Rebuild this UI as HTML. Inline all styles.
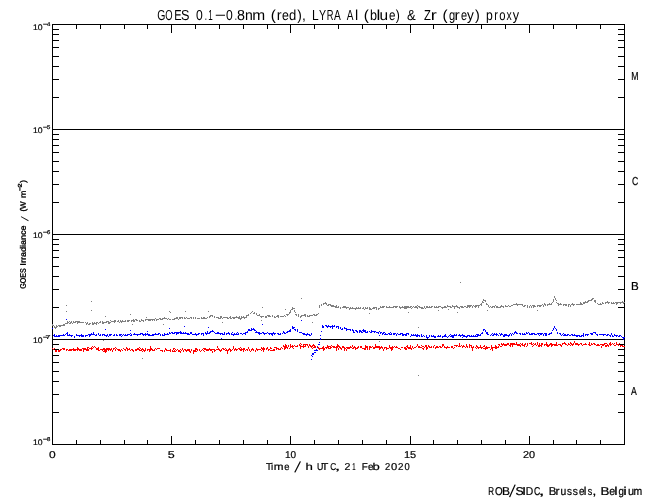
<!DOCTYPE html>
<html><head><meta charset="utf-8"><title>GOES 0.1-0.8nm, LYRA Al &amp; Zr proxy</title>
<style>
html,body{margin:0;padding:0;background:#fff;}
body{width:650px;height:500px;overflow:hidden;}
svg{display:block;}
text{font-family:"Liberation Sans", sans-serif;fill:#000;}
.s{stroke:#000;stroke-width:0.2px;}
.b{stroke:#000;stroke-width:0.4px;}
</style></head><body>
<svg width="650" height="500" viewBox="0 0 650 500">
<rect width="650" height="500" fill="#fff"/>
<g fill="#000" shape-rendering="crispEdges">
<path d="M52 24h573v1h-573zM52 444h573v1h-573zM52 24h1v421h-1zM624 24h1v421h-1zM53 129h571v1h-571zM53 234h571v1h-571zM53 339h571v1h-571zM53 412h6v1h-6zM618 412h6v1h-6zM53 394h6v1h-6zM618 394h6v1h-6zM53 381h6v1h-6zM618 381h6v1h-6zM53 371h6v1h-6zM618 371h6v1h-6zM53 362h6v1h-6zM618 362h6v1h-6zM53 355h6v1h-6zM618 355h6v1h-6zM53 349h6v1h-6zM618 349h6v1h-6zM53 344h6v1h-6zM618 344h6v1h-6zM53 307h6v1h-6zM618 307h6v1h-6zM53 289h6v1h-6zM618 289h6v1h-6zM53 276h6v1h-6zM618 276h6v1h-6zM53 266h6v1h-6zM618 266h6v1h-6zM53 257h6v1h-6zM618 257h6v1h-6zM53 250h6v1h-6zM618 250h6v1h-6zM53 244h6v1h-6zM618 244h6v1h-6zM53 239h6v1h-6zM618 239h6v1h-6zM53 202h6v1h-6zM618 202h6v1h-6zM53 184h6v1h-6zM618 184h6v1h-6zM53 171h6v1h-6zM618 171h6v1h-6zM53 161h6v1h-6zM618 161h6v1h-6zM53 152h6v1h-6zM618 152h6v1h-6zM53 145h6v1h-6zM618 145h6v1h-6zM53 139h6v1h-6zM618 139h6v1h-6zM53 134h6v1h-6zM618 134h6v1h-6zM53 97h6v1h-6zM618 97h6v1h-6zM53 79h6v1h-6zM618 79h6v1h-6zM53 66h6v1h-6zM618 66h6v1h-6zM53 56h6v1h-6zM618 56h6v1h-6zM53 47h6v1h-6zM618 47h6v1h-6zM53 40h6v1h-6zM618 40h6v1h-6zM53 34h6v1h-6zM618 34h6v1h-6zM53 29h6v1h-6zM618 29h6v1h-6zM76 440h1v4h-1zM76 25h1v4h-1zM100 440h1v4h-1zM100 25h1v4h-1zM124 440h1v4h-1zM124 25h1v4h-1zM147 440h1v4h-1zM147 25h1v4h-1zM171 436h1v8h-1zM171 25h1v8h-1zM195 440h1v4h-1zM195 25h1v4h-1zM219 440h1v4h-1zM219 25h1v4h-1zM243 440h1v4h-1zM243 25h1v4h-1zM267 440h1v4h-1zM267 25h1v4h-1zM290 436h1v8h-1zM290 25h1v8h-1zM314 440h1v4h-1zM314 25h1v4h-1zM338 440h1v4h-1zM338 25h1v4h-1zM362 440h1v4h-1zM362 25h1v4h-1zM386 440h1v4h-1zM386 25h1v4h-1zM410 436h1v8h-1zM410 25h1v8h-1zM433 440h1v4h-1zM433 25h1v4h-1zM457 440h1v4h-1zM457 25h1v4h-1zM481 440h1v4h-1zM481 25h1v4h-1zM505 440h1v4h-1zM505 25h1v4h-1zM529 436h1v8h-1zM529 25h1v8h-1zM553 440h1v4h-1zM553 25h1v4h-1zM576 440h1v4h-1zM576 25h1v4h-1zM600 440h1v4h-1zM600 25h1v4h-1z"/>
</g>
<g shape-rendering="crispEdges">
<path fill="#ff0000" d="M574 341h1v1h-1zM516 342h1v1h-1zM531 342h1v1h-1zM537 342h1v1h-1zM546 342h1v1h-1zM556 342h1v1h-1zM564 342h1v1h-1zM570 342h1v1h-1zM574 342h1v1h-1zM589 342h1v1h-1zM610 342h1v1h-1zM616 342h1v1h-1zM300 343h1v1h-1zM459 343h1v1h-1zM501 343h1v1h-1zM503 343h1v1h-1zM507 343h2v1h-2zM510 343h5v1h-5zM516 343h1v1h-1zM520 343h1v1h-1zM522 343h1v1h-1zM525 343h1v1h-1zM527 343h1v1h-1zM529 343h3v1h-3zM533 343h1v1h-1zM535 343h1v1h-1zM537 343h1v1h-1zM539 343h1v1h-1zM541 343h2v1h-2zM546 343h1v1h-1zM550 343h2v1h-2zM556 343h1v1h-1zM562 343h4v1h-4zM568 343h1v1h-1zM570 343h2v1h-2zM573 343h1v1h-1zM575 343h3v1h-3zM580 343h2v1h-2zM585 343h1v1h-1zM589 343h1v1h-1zM591 343h1v1h-1zM593 343h2v1h-2zM604 343h3v1h-3zM609 343h2v1h-2zM612 343h1v1h-1zM614 343h1v1h-1zM616 343h1v1h-1zM619 343h1v1h-1zM285 344h1v1h-1zM290 344h1v1h-1zM299 344h1v1h-1zM301 344h1v1h-1zM303 344h5v1h-5zM309 344h1v1h-1zM313 344h1v1h-1zM337 344h1v1h-1zM375 344h1v1h-1zM417 344h1v1h-1zM442 344h2v1h-2zM459 344h1v1h-1zM466 344h1v1h-1zM469 344h1v1h-1zM498 344h2v1h-2zM501 344h8v1h-8zM510 344h10v1h-10zM521 344h2v1h-2zM524 344h2v1h-2zM527 344h1v1h-1zM531 344h2v1h-2zM534 344h2v1h-2zM537 344h1v1h-1zM539 344h1v1h-1zM541 344h2v1h-2zM544 344h4v1h-4zM549 344h8v1h-8zM558 344h3v1h-3zM562 344h1v1h-1zM565 344h2v1h-2zM568 344h2v1h-2zM571 344h3v1h-3zM575 344h5v1h-5zM581 344h1v1h-1zM583 344h4v1h-4zM588 344h2v1h-2zM591 344h2v1h-2zM594 344h2v1h-2zM597 344h2v1h-2zM600 344h5v1h-5zM607 344h1v1h-1zM609 344h3v1h-3zM613 344h1v1h-1zM616 344h3v1h-3zM283 345h1v1h-1zM285 345h2v1h-2zM288 345h1v1h-1zM290 345h1v1h-1zM292 345h1v1h-1zM294 345h1v1h-1zM297 345h1v1h-1zM299 345h2v1h-2zM303 345h1v1h-1zM305 345h1v1h-1zM307 345h1v1h-1zM309 345h2v1h-2zM312 345h3v1h-3zM327 345h1v1h-1zM331 345h1v1h-1zM337 345h2v1h-2zM352 345h1v1h-1zM365 345h1v1h-1zM375 345h1v1h-1zM389 345h1v1h-1zM407 345h1v1h-1zM410 345h1v1h-1zM417 345h1v1h-1zM421 345h1v1h-1zM425 345h2v1h-2zM428 345h1v1h-1zM434 345h1v1h-1zM442 345h2v1h-2zM454 345h4v1h-4zM459 345h1v1h-1zM461 345h1v1h-1zM463 345h1v1h-1zM466 345h1v1h-1zM469 345h3v1h-3zM476 345h1v1h-1zM480 345h1v1h-1zM484 345h1v1h-1zM491 345h1v1h-1zM495 345h1v1h-1zM499 345h1v1h-1zM502 345h1v1h-1zM504 345h3v1h-3zM509 345h2v1h-2zM512 345h1v1h-1zM517 345h4v1h-4zM522 345h3v1h-3zM527 345h1v1h-1zM533 345h1v1h-1zM536 345h1v1h-1zM538 345h4v1h-4zM544 345h1v1h-1zM546 345h4v1h-4zM551 345h2v1h-2zM554 345h4v1h-4zM560 345h2v1h-2zM567 345h1v1h-1zM570 345h1v1h-1zM572 345h1v1h-1zM578 345h1v1h-1zM582 345h1v1h-1zM589 345h2v1h-2zM596 345h4v1h-4zM602 345h2v1h-2zM605 345h4v1h-4zM610 345h1v1h-1zM614 345h2v1h-2zM618 345h1v1h-1zM620 345h3v1h-3zM92 346h1v1h-1zM94 346h1v1h-1zM150 346h1v1h-1zM217 346h1v1h-1zM233 346h1v1h-1zM283 346h4v1h-4zM288 346h1v1h-1zM290 346h4v1h-4zM295 346h3v1h-3zM300 346h6v1h-6zM308 346h1v1h-1zM310 346h3v1h-3zM314 346h2v1h-2zM317 346h1v1h-1zM323 346h1v1h-1zM327 346h4v1h-4zM332 346h3v1h-3zM336 346h4v1h-4zM342 346h2v1h-2zM350 346h1v1h-1zM352 346h1v1h-1zM354 346h1v1h-1zM358 346h1v1h-1zM360 346h2v1h-2zM365 346h3v1h-3zM369 346h2v1h-2zM372 346h1v1h-1zM375 346h5v1h-5zM381 346h1v1h-1zM389 346h1v1h-1zM392 346h1v1h-1zM394 346h1v1h-1zM396 346h1v1h-1zM406 346h2v1h-2zM410 346h1v1h-1zM412 346h1v1h-1zM416 346h1v1h-1zM418 346h2v1h-2zM422 346h2v1h-2zM425 346h2v1h-2zM428 346h2v1h-2zM431 346h1v1h-1zM433 346h1v1h-1zM436 346h2v1h-2zM439 346h2v1h-2zM442 346h1v1h-1zM444 346h1v1h-1zM447 346h1v1h-1zM451 346h2v1h-2zM456 346h1v1h-1zM458 346h3v1h-3zM462 346h3v1h-3zM466 346h2v1h-2zM469 346h1v1h-1zM471 346h1v1h-1zM473 346h1v1h-1zM476 346h2v1h-2zM480 346h1v1h-1zM483 346h2v1h-2zM486 346h1v1h-1zM491 346h1v1h-1zM495 346h2v1h-2zM498 346h1v1h-1zM500 346h2v1h-2zM510 346h1v1h-1zM512 346h1v1h-1zM520 346h1v1h-1zM524 346h1v1h-1zM526 346h1v1h-1zM532 346h1v1h-1zM538 346h2v1h-2zM541 346h1v1h-1zM547 346h2v1h-2zM551 346h1v1h-1zM561 346h1v1h-1zM601 346h1v1h-1zM605 346h2v1h-2zM608 346h1v1h-1zM620 346h1v1h-1zM622 346h3v1h-3zM77 347h1v1h-1zM87 347h2v1h-2zM91 347h1v1h-1zM93 347h1v1h-1zM95 347h1v1h-1zM98 347h1v1h-1zM115 347h1v1h-1zM126 347h1v1h-1zM139 347h1v1h-1zM150 347h1v1h-1zM217 347h1v1h-1zM233 347h1v1h-1zM240 347h1v1h-1zM248 347h1v1h-1zM261 347h1v1h-1zM263 347h1v1h-1zM267 347h1v1h-1zM270 347h1v1h-1zM274 347h3v1h-3zM281 347h1v1h-1zM284 347h4v1h-4zM290 347h1v1h-1zM292 347h1v1h-1zM300 347h1v1h-1zM303 347h1v1h-1zM308 347h1v1h-1zM311 347h1v1h-1zM313 347h3v1h-3zM317 347h2v1h-2zM322 347h2v1h-2zM325 347h4v1h-4zM330 347h2v1h-2zM333 347h5v1h-5zM339 347h2v1h-2zM342 347h3v1h-3zM346 347h6v1h-6zM353 347h3v1h-3zM357 347h2v1h-2zM360 347h2v1h-2zM365 347h3v1h-3zM369 347h3v1h-3zM373 347h10v1h-10zM384 347h3v1h-3zM389 347h5v1h-5zM395 347h3v1h-3zM401 347h2v1h-2zM404 347h2v1h-2zM407 347h4v1h-4zM412 347h1v1h-1zM414 347h2v1h-2zM418 347h4v1h-4zM424 347h1v1h-1zM426 347h2v1h-2zM429 347h3v1h-3zM433 347h1v1h-1zM435 347h4v1h-4zM440 347h2v1h-2zM444 347h6v1h-6zM451 347h2v1h-2zM454 347h1v1h-1zM462 347h1v1h-1zM465 347h1v1h-1zM467 347h1v1h-1zM469 347h1v1h-1zM471 347h3v1h-3zM475 347h1v1h-1zM477 347h6v1h-6zM485 347h5v1h-5zM491 347h8v1h-8zM601 347h1v1h-1zM52 348h1v1h-1zM54 348h1v1h-1zM62 348h3v1h-3zM73 348h1v1h-1zM77 348h2v1h-2zM82 348h4v1h-4zM87 348h1v1h-1zM89 348h4v1h-4zM96 348h3v1h-3zM103 348h2v1h-2zM106 348h4v1h-4zM111 348h1v1h-1zM113 348h2v1h-2zM116 348h1v1h-1zM123 348h1v1h-1zM126 348h2v1h-2zM129 348h1v1h-1zM137 348h2v1h-2zM140 348h1v1h-1zM142 348h1v1h-1zM145 348h1v1h-1zM150 348h2v1h-2zM155 348h1v1h-1zM157 348h3v1h-3zM165 348h1v1h-1zM173 348h2v1h-2zM182 348h1v1h-1zM195 348h2v1h-2zM203 348h3v1h-3zM209 348h1v1h-1zM218 348h1v1h-1zM222 348h2v1h-2zM225 348h1v1h-1zM229 348h1v1h-1zM233 348h1v1h-1zM235 348h1v1h-1zM238 348h2v1h-2zM241 348h1v1h-1zM243 348h2v1h-2zM248 348h1v1h-1zM252 348h1v1h-1zM256 348h1v1h-1zM261 348h4v1h-4zM266 348h2v1h-2zM270 348h2v1h-2zM276 348h3v1h-3zM280 348h1v1h-1zM282 348h1v1h-1zM284 348h2v1h-2zM287 348h1v1h-1zM289 348h1v1h-1zM293 348h1v1h-1zM300 348h1v1h-1zM312 348h1v1h-1zM318 348h7v1h-7zM326 348h1v1h-1zM328 348h3v1h-3zM336 348h1v1h-1zM338 348h1v1h-1zM340 348h2v1h-2zM344 348h2v1h-2zM347 348h3v1h-3zM352 348h2v1h-2zM355 348h3v1h-3zM362 348h4v1h-4zM367 348h1v1h-1zM369 348h1v1h-1zM373 348h2v1h-2zM379 348h2v1h-2zM382 348h1v1h-1zM384 348h1v1h-1zM386 348h3v1h-3zM390 348h3v1h-3zM398 348h2v1h-2zM404 348h3v1h-3zM408 348h4v1h-4zM413 348h1v1h-1zM422 348h2v1h-2zM426 348h2v1h-2zM435 348h1v1h-1zM446 348h1v1h-1zM453 348h1v1h-1zM472 348h1v1h-1zM476 348h1v1h-1zM478 348h1v1h-1zM481 348h1v1h-1zM483 348h5v1h-5zM491 348h2v1h-2zM495 348h2v1h-2zM53 349h1v1h-1zM60 349h2v1h-2zM63 349h2v1h-2zM66 349h2v1h-2zM69 349h13v1h-13zM83 349h6v1h-6zM91 349h1v1h-1zM96 349h3v1h-3zM100 349h12v1h-12zM113 349h1v1h-1zM115 349h1v1h-1zM117 349h3v1h-3zM121 349h1v1h-1zM124 349h2v1h-2zM127 349h3v1h-3zM131 349h2v1h-2zM135 349h5v1h-5zM141 349h3v1h-3zM145 349h1v1h-1zM147 349h6v1h-6zM154 349h1v1h-1zM156 349h1v1h-1zM165 349h2v1h-2zM170 349h1v1h-1zM173 349h1v1h-1zM175 349h1v1h-1zM177 349h1v1h-1zM180 349h1v1h-1zM182 349h1v1h-1zM184 349h2v1h-2zM187 349h3v1h-3zM191 349h1v1h-1zM195 349h3v1h-3zM199 349h1v1h-1zM202 349h1v1h-1zM204 349h11v1h-11zM216 349h4v1h-4zM221 349h1v1h-1zM223 349h2v1h-2zM226 349h1v1h-1zM228 349h3v1h-3zM232 349h1v1h-1zM234 349h4v1h-4zM239 349h6v1h-6zM246 349h2v1h-2zM249 349h1v1h-1zM251 349h3v1h-3zM256 349h5v1h-5zM262 349h3v1h-3zM266 349h1v1h-1zM268 349h2v1h-2zM273 349h2v1h-2zM276 349h1v1h-1zM278 349h3v1h-3zM284 349h1v1h-1zM319 349h1v1h-1zM323 349h2v1h-2zM336 349h1v1h-1zM338 349h1v1h-1zM341 349h1v1h-1zM344 349h1v1h-1zM346 349h1v1h-1zM355 349h1v1h-1zM364 349h2v1h-2zM367 349h1v1h-1zM369 349h1v1h-1zM379 349h1v1h-1zM383 349h1v1h-1zM386 349h1v1h-1zM391 349h2v1h-2zM400 349h1v1h-1zM405 349h2v1h-2zM411 349h1v1h-1zM423 349h1v1h-1zM426 349h1v1h-1zM472 349h1v1h-1zM485 349h1v1h-1zM490 349h1v1h-1zM492 349h1v1h-1zM55 350h2v1h-2zM58 350h3v1h-3zM66 350h1v1h-1zM68 350h4v1h-4zM73 350h3v1h-3zM77 350h1v1h-1zM79 350h3v1h-3zM83 350h1v1h-1zM86 350h3v1h-3zM98 350h2v1h-2zM102 350h1v1h-1zM104 350h3v1h-3zM108 350h1v1h-1zM110 350h1v1h-1zM112 350h1v1h-1zM115 350h1v1h-1zM118 350h3v1h-3zM122 350h1v1h-1zM125 350h1v1h-1zM127 350h1v1h-1zM130 350h1v1h-1zM132 350h2v1h-2zM135 350h2v1h-2zM139 350h3v1h-3zM143 350h3v1h-3zM147 350h1v1h-1zM149 350h2v1h-2zM152 350h3v1h-3zM160 350h3v1h-3zM164 350h1v1h-1zM166 350h5v1h-5zM172 350h1v1h-1zM174 350h1v1h-1zM176 350h1v1h-1zM178 350h2v1h-2zM181 350h1v1h-1zM183 350h1v1h-1zM185 350h5v1h-5zM191 350h1v1h-1zM193 350h3v1h-3zM197 350h1v1h-1zM199 350h1v1h-1zM201 350h1v1h-1zM203 350h1v1h-1zM206 350h3v1h-3zM210 350h2v1h-2zM214 350h2v1h-2zM219 350h3v1h-3zM225 350h4v1h-4zM230 350h2v1h-2zM234 350h1v1h-1zM236 350h1v1h-1zM240 350h2v1h-2zM243 350h1v1h-1zM245 350h1v1h-1zM247 350h1v1h-1zM249 350h1v1h-1zM251 350h1v1h-1zM253 350h1v1h-1zM255 350h1v1h-1zM257 350h1v1h-1zM261 350h1v1h-1zM263 350h1v1h-1zM268 350h1v1h-1zM270 350h5v1h-5zM323 350h1v1h-1zM336 350h1v1h-1zM344 350h1v1h-1zM346 350h1v1h-1zM383 350h1v1h-1zM391 350h1v1h-1zM472 350h1v1h-1zM492 350h1v1h-1zM55 351h2v1h-2zM58 351h2v1h-2zM83 351h1v1h-1zM103 351h4v1h-4zM112 351h1v1h-1zM120 351h1v1h-1zM133 351h1v1h-1zM142 351h1v1h-1zM144 351h1v1h-1zM149 351h1v1h-1zM162 351h1v1h-1zM164 351h1v1h-1zM170 351h1v1h-1zM172 351h4v1h-4zM178 351h3v1h-3zM183 351h1v1h-1zM186 351h1v1h-1zM189 351h2v1h-2zM193 351h4v1h-4zM200 351h1v1h-1zM204 351h1v1h-1zM212 351h1v1h-1zM214 351h1v1h-1zM220 351h1v1h-1zM227 351h1v1h-1zM230 351h1v1h-1zM243 351h1v1h-1zM250 351h1v1h-1zM255 351h1v1h-1zM263 351h1v1h-1zM105 352h1v1h-1zM180 352h1v1h-1zM190 352h1v1h-1zM193 352h1v1h-1zM212 352h1v1h-1zM227 352h1v1h-1zM193 353h1v1h-1zM227 353h1v1h-1z"/>
<path fill="#000" d="M57 349h1v1h-1z"/>
<path fill="#0000ff" d="M66 319h1v1h-1zM301 320h1v1h-1zM262 324h1v1h-1zM322 325h1v1h-1zM325 325h2v1h-2zM328 325h1v1h-1zM332 325h1v1h-1zM334 325h1v1h-1zM184 326h1v1h-1zM292 326h1v1h-1zM322 326h2v1h-2zM326 326h9v1h-9zM336 326h3v1h-3zM554 326h1v1h-1zM208 327h1v1h-1zM292 327h3v1h-3zM322 327h2v1h-2zM327 327h1v1h-1zM330 327h1v1h-1zM332 327h1v1h-1zM336 327h1v1h-1zM338 327h1v1h-1zM340 327h1v1h-1zM344 327h1v1h-1zM554 327h1v1h-1zM52 328h1v1h-1zM169 328h1v1h-1zM251 328h1v1h-1zM253 328h1v1h-1zM292 328h2v1h-2zM332 328h1v1h-1zM338 328h1v1h-1zM340 328h1v1h-1zM342 328h1v1h-1zM344 328h3v1h-3zM553 328h1v1h-1zM555 328h1v1h-1zM105 329h1v1h-1zM248 329h2v1h-2zM251 329h4v1h-4zM290 329h1v1h-1zM294 329h2v1h-2zM297 329h1v1h-1zM341 329h2v1h-2zM346 329h5v1h-5zM352 329h1v1h-1zM363 329h1v1h-1zM483 329h2v1h-2zM553 329h1v1h-1zM556 329h1v1h-1zM130 330h1v1h-1zM212 330h1v1h-1zM248 330h4v1h-4zM254 330h2v1h-2zM289 330h2v1h-2zM295 330h1v1h-1zM297 330h1v1h-1zM346 330h1v1h-1zM350 330h1v1h-1zM352 330h2v1h-2zM355 330h2v1h-2zM359 330h2v1h-2zM362 330h4v1h-4zM371 330h1v1h-1zM483 330h1v1h-1zM485 330h1v1h-1zM552 330h1v1h-1zM556 330h1v1h-1zM147 331h1v1h-1zM180 331h1v1h-1zM207 331h1v1h-1zM210 331h4v1h-4zM247 331h1v1h-1zM256 331h1v1h-1zM283 331h1v1h-1zM287 331h4v1h-4zM297 331h1v1h-1zM321 331h1v1h-1zM353 331h1v1h-1zM356 331h2v1h-2zM359 331h3v1h-3zM363 331h3v1h-3zM367 331h1v1h-1zM369 331h1v1h-1zM371 331h5v1h-5zM379 331h1v1h-1zM485 331h1v1h-1zM515 331h1v1h-1zM67 332h1v1h-1zM93 332h1v1h-1zM169 332h1v1h-1zM171 332h2v1h-2zM174 332h8v1h-8zM183 332h1v1h-1zM185 332h1v1h-1zM190 332h2v1h-2zM205 332h1v1h-1zM207 332h1v1h-1zM209 332h2v1h-2zM214 332h1v1h-1zM217 332h2v1h-2zM224 332h1v1h-1zM228 332h1v1h-1zM232 332h1v1h-1zM237 332h1v1h-1zM245 332h3v1h-3zM255 332h5v1h-5zM262 332h2v1h-2zM267 332h1v1h-1zM273 332h1v1h-1zM283 332h2v1h-2zM286 332h2v1h-2zM299 332h3v1h-3zM353 332h2v1h-2zM357 332h1v1h-1zM359 332h1v1h-1zM361 332h2v1h-2zM365 332h3v1h-3zM370 332h2v1h-2zM374 332h1v1h-1zM376 332h3v1h-3zM380 332h2v1h-2zM383 332h2v1h-2zM390 332h1v1h-1zM482 332h1v1h-1zM486 332h2v1h-2zM514 332h3v1h-3zM526 332h1v1h-1zM528 332h1v1h-1zM551 332h1v1h-1zM557 332h1v1h-1zM593 332h3v1h-3zM66 333h2v1h-2zM91 333h1v1h-1zM93 333h1v1h-1zM98 333h1v1h-1zM130 333h1v1h-1zM134 333h1v1h-1zM140 333h3v1h-3zM145 333h1v1h-1zM147 333h1v1h-1zM155 333h1v1h-1zM158 333h2v1h-2zM164 333h1v1h-1zM167 333h1v1h-1zM169 333h2v1h-2zM172 333h3v1h-3zM176 333h3v1h-3zM180 333h9v1h-9zM190 333h2v1h-2zM195 333h1v1h-1zM198 333h2v1h-2zM201 333h3v1h-3zM205 333h5v1h-5zM215 333h8v1h-8zM224 333h1v1h-1zM226 333h4v1h-4zM231 333h1v1h-1zM234 333h1v1h-1zM236 333h1v1h-1zM238 333h1v1h-1zM240 333h2v1h-2zM243 333h3v1h-3zM258 333h4v1h-4zM263 333h4v1h-4zM268 333h8v1h-8zM277 333h2v1h-2zM280 333h1v1h-1zM282 333h1v1h-1zM284 333h2v1h-2zM302 333h3v1h-3zM307 333h1v1h-1zM311 333h1v1h-1zM378 333h1v1h-1zM380 333h1v1h-1zM382 333h2v1h-2zM385 333h1v1h-1zM388 333h2v1h-2zM391 333h1v1h-1zM393 333h3v1h-3zM397 333h1v1h-1zM400 333h3v1h-3zM406 333h3v1h-3zM481 333h2v1h-2zM486 333h2v1h-2zM492 333h1v1h-1zM494 333h1v1h-1zM496 333h1v1h-1zM499 333h1v1h-1zM501 333h1v1h-1zM510 333h1v1h-1zM512 333h1v1h-1zM514 333h1v1h-1zM516 333h2v1h-2zM519 333h2v1h-2zM522 333h1v1h-1zM524 333h1v1h-1zM526 333h2v1h-2zM529 333h1v1h-1zM531 333h4v1h-4zM537 333h6v1h-6zM544 333h3v1h-3zM549 333h3v1h-3zM557 333h1v1h-1zM559 333h2v1h-2zM563 333h1v1h-1zM583 333h1v1h-1zM590 333h3v1h-3zM595 333h1v1h-1zM611 333h1v1h-1zM54 334h1v1h-1zM63 334h1v1h-1zM65 334h1v1h-1zM67 334h1v1h-1zM69 334h1v1h-1zM76 334h1v1h-1zM81 334h1v1h-1zM88 334h7v1h-7zM96 334h1v1h-1zM98 334h1v1h-1zM100 334h1v1h-1zM102 334h3v1h-3zM107 334h1v1h-1zM109 334h3v1h-3zM114 334h1v1h-1zM116 334h1v1h-1zM119 334h3v1h-3zM123 334h1v1h-1zM125 334h1v1h-1zM127 334h3v1h-3zM131 334h1v1h-1zM133 334h8v1h-8zM142 334h8v1h-8zM152 334h7v1h-7zM160 334h1v1h-1zM162 334h1v1h-1zM164 334h5v1h-5zM176 334h1v1h-1zM187 334h3v1h-3zM192 334h7v1h-7zM201 334h1v1h-1zM203 334h1v1h-1zM206 334h1v1h-1zM220 334h1v1h-1zM222 334h3v1h-3zM226 334h1v1h-1zM229 334h1v1h-1zM231 334h8v1h-8zM242 334h1v1h-1zM245 334h1v1h-1zM259 334h1v1h-1zM264 334h1v1h-1zM269 334h1v1h-1zM271 334h2v1h-2zM274 334h1v1h-1zM278 334h3v1h-3zM303 334h7v1h-7zM311 334h1v1h-1zM382 334h1v1h-1zM384 334h4v1h-4zM389 334h3v1h-3zM393 334h2v1h-2zM396 334h1v1h-1zM398 334h3v1h-3zM402 334h5v1h-5zM408 334h1v1h-1zM411 334h1v1h-1zM413 334h1v1h-1zM415 334h1v1h-1zM417 334h1v1h-1zM421 334h1v1h-1zM445 334h1v1h-1zM450 334h1v1h-1zM454 334h1v1h-1zM456 334h1v1h-1zM459 334h1v1h-1zM462 334h1v1h-1zM476 334h3v1h-3zM480 334h1v1h-1zM487 334h2v1h-2zM491 334h1v1h-1zM493 334h5v1h-5zM500 334h3v1h-3zM504 334h3v1h-3zM509 334h1v1h-1zM511 334h1v1h-1zM513 334h1v1h-1zM520 334h1v1h-1zM522 334h4v1h-4zM529 334h4v1h-4zM534 334h3v1h-3zM538 334h1v1h-1zM540 334h2v1h-2zM543 334h1v1h-1zM545 334h2v1h-2zM548 334h2v1h-2zM560 334h1v1h-1zM562 334h1v1h-1zM564 334h2v1h-2zM567 334h2v1h-2zM571 334h2v1h-2zM574 334h1v1h-1zM583 334h1v1h-1zM585 334h4v1h-4zM591 334h2v1h-2zM596 334h2v1h-2zM599 334h7v1h-7zM607 334h2v1h-2zM611 334h1v1h-1zM614 334h1v1h-1zM53 335h2v1h-2zM56 335h1v1h-1zM58 335h7v1h-7zM67 335h6v1h-6zM76 335h8v1h-8zM85 335h3v1h-3zM89 335h2v1h-2zM95 335h2v1h-2zM99 335h2v1h-2zM102 335h1v1h-1zM104 335h4v1h-4zM109 335h2v1h-2zM113 335h2v1h-2zM116 335h2v1h-2zM119 335h2v1h-2zM122 335h1v1h-1zM124 335h4v1h-4zM130 335h2v1h-2zM137 335h1v1h-1zM143 335h1v1h-1zM145 335h1v1h-1zM148 335h6v1h-6zM160 335h1v1h-1zM162 335h3v1h-3zM196 335h1v1h-1zM203 335h1v1h-1zM233 335h1v1h-1zM272 335h1v1h-1zM306 335h1v1h-1zM309 335h2v1h-2zM320 335h1v1h-1zM379 335h1v1h-1zM396 335h1v1h-1zM402 335h2v1h-2zM405 335h2v1h-2zM411 335h9v1h-9zM421 335h1v1h-1zM423 335h1v1h-1zM426 335h1v1h-1zM429 335h1v1h-1zM431 335h1v1h-1zM433 335h1v1h-1zM438 335h1v1h-1zM440 335h1v1h-1zM444 335h2v1h-2zM449 335h1v1h-1zM451 335h6v1h-6zM458 335h7v1h-7zM467 335h3v1h-3zM471 335h1v1h-1zM473 335h1v1h-1zM475 335h1v1h-1zM477 335h4v1h-4zM490 335h1v1h-1zM492 335h2v1h-2zM496 335h1v1h-1zM498 335h1v1h-1zM500 335h1v1h-1zM503 335h7v1h-7zM511 335h1v1h-1zM539 335h1v1h-1zM543 335h1v1h-1zM545 335h2v1h-2zM561 335h1v1h-1zM563 335h5v1h-5zM569 335h2v1h-2zM572 335h8v1h-8zM581 335h3v1h-3zM585 335h1v1h-1zM587 335h1v1h-1zM597 335h1v1h-1zM603 335h1v1h-1zM606 335h2v1h-2zM609 335h2v1h-2zM612 335h1v1h-1zM614 335h4v1h-4zM619 335h2v1h-2zM54 336h6v1h-6zM71 336h1v1h-1zM74 336h1v1h-1zM79 336h1v1h-1zM81 336h3v1h-3zM85 336h1v1h-1zM89 336h1v1h-1zM106 336h1v1h-1zM108 336h1v1h-1zM121 336h1v1h-1zM410 336h1v1h-1zM416 336h2v1h-2zM419 336h1v1h-1zM421 336h2v1h-2zM424 336h1v1h-1zM426 336h1v1h-1zM429 336h1v1h-1zM431 336h5v1h-5zM437 336h4v1h-4zM442 336h5v1h-5zM448 336h1v1h-1zM450 336h4v1h-4zM460 336h1v1h-1zM463 336h5v1h-5zM469 336h9v1h-9zM503 336h2v1h-2zM508 336h1v1h-1zM576 336h2v1h-2zM579 336h3v1h-3zM583 336h1v1h-1zM610 336h1v1h-1zM612 336h2v1h-2zM616 336h1v1h-1zM618 336h2v1h-2zM621 336h1v1h-1zM74 337h1v1h-1zM426 337h3v1h-3zM434 337h2v1h-2zM442 337h1v1h-1zM447 337h1v1h-1zM452 337h2v1h-2zM462 337h1v1h-1zM466 337h1v1h-1zM622 337h3v1h-3zM221 338h1v1h-1zM320 338h1v1h-1zM427 338h1v1h-1zM623 338h1v1h-1zM320 339h1v1h-1zM623 339h1v1h-1zM319 342h1v1h-1zM318 344h2v1h-2zM317 347h1v1h-1zM316 349h1v1h-1zM314 350h4v1h-4zM314 352h2v1h-2zM312 353h2v1h-2zM312 354h2v1h-2zM311 355h1v1h-1zM312 356h1v1h-1zM311 359h1v1h-1z"/>
<path fill="#808080" d="M460 282h1v1h-1zM554 296h1v1h-1zM554 297h1v1h-1zM301 298h1v1h-1zM555 298h1v1h-1zM592 298h2v1h-2zM483 299h1v1h-1zM553 299h1v1h-1zM555 299h1v1h-1zM591 299h2v1h-2zM483 300h3v1h-3zM553 300h1v1h-1zM556 300h1v1h-1zM588 300h4v1h-4zM594 300h2v1h-2zM91 301h1v1h-1zM482 301h1v1h-1zM485 301h1v1h-1zM553 301h1v1h-1zM585 301h1v1h-1zM587 301h2v1h-2zM594 301h2v1h-2zM607 301h1v1h-1zM622 301h1v1h-1zM325 302h1v1h-1zM482 302h2v1h-2zM552 302h1v1h-1zM556 302h1v1h-1zM580 302h1v1h-1zM583 302h5v1h-5zM595 302h1v1h-1zM602 302h1v1h-1zM605 302h5v1h-5zM611 302h1v1h-1zM613 302h1v1h-1zM615 302h10v1h-10zM323 303h4v1h-4zM481 303h1v1h-1zM486 303h1v1h-1zM516 303h1v1h-1zM544 303h1v1h-1zM549 303h1v1h-1zM551 303h1v1h-1zM557 303h2v1h-2zM560 303h1v1h-1zM572 303h1v1h-1zM580 303h2v1h-2zM583 303h2v1h-2zM597 303h1v1h-1zM600 303h1v1h-1zM602 303h2v1h-2zM605 303h1v1h-1zM608 303h1v1h-1zM611 303h4v1h-4zM616 303h2v1h-2zM620 303h1v1h-1zM623 303h1v1h-1zM321 304h1v1h-1zM323 304h1v1h-1zM326 304h1v1h-1zM328 304h3v1h-3zM480 304h2v1h-2zM486 304h2v1h-2zM513 304h10v1h-10zM542 304h1v1h-1zM544 304h2v1h-2zM547 304h5v1h-5zM558 304h4v1h-4zM563 304h4v1h-4zM568 304h2v1h-2zM571 304h4v1h-4zM576 304h7v1h-7zM598 304h4v1h-4zM616 304h1v1h-1zM66 305h1v1h-1zM319 305h1v1h-1zM321 305h1v1h-1zM327 305h2v1h-2zM330 305h4v1h-4zM336 305h1v1h-1zM417 305h1v1h-1zM447 305h1v1h-1zM452 305h1v1h-1zM456 305h1v1h-1zM467 305h5v1h-5zM473 305h1v1h-1zM475 305h5v1h-5zM481 305h1v1h-1zM488 305h1v1h-1zM495 305h1v1h-1zM501 305h1v1h-1zM505 305h1v1h-1zM508 305h1v1h-1zM511 305h2v1h-2zM517 305h1v1h-1zM522 305h1v1h-1zM524 305h2v1h-2zM527 305h1v1h-1zM530 305h1v1h-1zM532 305h3v1h-3zM537 305h5v1h-5zM543 305h1v1h-1zM545 305h1v1h-1zM547 305h1v1h-1zM558 305h1v1h-1zM563 305h1v1h-1zM565 305h2v1h-2zM568 305h1v1h-1zM570 305h1v1h-1zM573 305h1v1h-1zM319 306h1v1h-1zM331 306h6v1h-6zM338 306h1v1h-1zM343 306h3v1h-3zM380 306h1v1h-1zM382 306h3v1h-3zM386 306h1v1h-1zM389 306h1v1h-1zM393 306h5v1h-5zM399 306h1v1h-1zM402 306h1v1h-1zM404 306h5v1h-5zM410 306h2v1h-2zM413 306h1v1h-1zM415 306h2v1h-2zM418 306h2v1h-2zM424 306h1v1h-1zM426 306h2v1h-2zM429 306h1v1h-1zM431 306h2v1h-2zM434 306h1v1h-1zM436 306h1v1h-1zM438 306h3v1h-3zM444 306h2v1h-2zM447 306h4v1h-4zM452 306h6v1h-6zM460 306h3v1h-3zM464 306h2v1h-2zM467 306h4v1h-4zM472 306h1v1h-1zM474 306h3v1h-3zM478 306h1v1h-1zM488 306h1v1h-1zM490 306h1v1h-1zM492 306h3v1h-3zM496 306h2v1h-2zM500 306h4v1h-4zM505 306h3v1h-3zM509 306h2v1h-2zM523 306h2v1h-2zM527 306h1v1h-1zM529 306h1v1h-1zM531 306h1v1h-1zM533 306h3v1h-3zM537 306h1v1h-1zM539 306h2v1h-2zM543 306h1v1h-1zM568 306h1v1h-1zM570 306h1v1h-1zM262 307h1v1h-1zM292 307h1v1h-1zM319 307h1v1h-1zM335 307h4v1h-4zM340 307h1v1h-1zM342 307h7v1h-7zM350 307h1v1h-1zM352 307h1v1h-1zM356 307h1v1h-1zM358 307h1v1h-1zM360 307h1v1h-1zM363 307h1v1h-1zM365 307h1v1h-1zM367 307h1v1h-1zM369 307h1v1h-1zM373 307h4v1h-4zM380 307h4v1h-4zM386 307h8v1h-8zM395 307h2v1h-2zM399 307h12v1h-12zM412 307h1v1h-1zM414 307h4v1h-4zM419 307h4v1h-4zM424 307h1v1h-1zM426 307h6v1h-6zM434 307h5v1h-5zM441 307h6v1h-6zM450 307h2v1h-2zM454 307h1v1h-1zM457 307h3v1h-3zM461 307h3v1h-3zM466 307h2v1h-2zM469 307h1v1h-1zM472 307h1v1h-1zM475 307h1v1h-1zM478 307h1v1h-1zM489 307h1v1h-1zM491 307h2v1h-2zM494 307h1v1h-1zM496 307h5v1h-5zM503 307h1v1h-1zM527 307h1v1h-1zM529 307h1v1h-1zM531 307h1v1h-1zM533 307h1v1h-1zM292 308h3v1h-3zM340 308h1v1h-1zM346 308h1v1h-1zM349 308h12v1h-12zM362 308h2v1h-2zM365 308h3v1h-3zM369 308h2v1h-2zM372 308h3v1h-3zM376 308h1v1h-1zM378 308h2v1h-2zM400 308h1v1h-1zM404 308h3v1h-3zM411 308h1v1h-1zM417 308h1v1h-1zM421 308h3v1h-3zM425 308h1v1h-1zM442 308h1v1h-1zM454 308h1v1h-1zM459 308h1v1h-1zM285 309h1v1h-1zM291 309h2v1h-2zM349 309h1v1h-1zM355 309h1v1h-1zM364 309h1v1h-1zM369 309h3v1h-3zM376 309h1v1h-1zM378 309h1v1h-1zM448 309h1v1h-1zM91 310h1v1h-1zM290 310h1v1h-1zM294 310h1v1h-1zM438 310h1v1h-1zM487 310h1v1h-1zM537 310h1v1h-1zM66 311h1v1h-1zM169 311h1v1h-1zM185 311h1v1h-1zM208 311h1v1h-1zM252 311h1v1h-1zM290 311h1v1h-1zM294 311h1v1h-1zM170 312h1v1h-1zM251 312h1v1h-1zM254 312h1v1h-1zM289 312h2v1h-2zM295 312h1v1h-1zM408 312h1v1h-1zM457 312h1v1h-1zM250 313h1v1h-1zM253 313h2v1h-2zM256 313h1v1h-1zM289 313h1v1h-1zM318 313h1v1h-1zM369 313h1v1h-1zM130 314h1v1h-1zM248 314h1v1h-1zM256 314h1v1h-1zM259 314h1v1h-1zM286 314h3v1h-3zM295 314h2v1h-2zM298 314h1v1h-1zM304 314h2v1h-2zM313 314h2v1h-2zM316 314h2v1h-2zM210 315h3v1h-3zM246 315h3v1h-3zM257 315h3v1h-3zM267 315h3v1h-3zM272 315h1v1h-1zM277 315h2v1h-2zM284 315h1v1h-1zM287 315h1v1h-1zM296 315h1v1h-1zM298 315h1v1h-1zM301 315h5v1h-5zM307 315h1v1h-1zM309 315h4v1h-4zM314 315h3v1h-3zM105 316h1v1h-1zM209 316h2v1h-2zM212 316h1v1h-1zM214 316h1v1h-1zM220 316h2v1h-2zM230 316h1v1h-1zM236 316h1v1h-1zM239 316h1v1h-1zM241 316h1v1h-1zM243 316h1v1h-1zM246 316h1v1h-1zM260 316h4v1h-4zM265 316h2v1h-2zM268 316h3v1h-3zM272 316h1v1h-1zM274 316h1v1h-1zM276 316h3v1h-3zM280 316h4v1h-4zM285 316h1v1h-1zM298 316h1v1h-1zM300 316h2v1h-2zM305 316h1v1h-1zM307 316h3v1h-3zM146 317h1v1h-1zM164 317h1v1h-1zM176 317h2v1h-2zM179 317h4v1h-4zM184 317h1v1h-1zM186 317h1v1h-1zM190 317h2v1h-2zM193 317h1v1h-1zM195 317h1v1h-1zM201 317h1v1h-1zM203 317h2v1h-2zM207 317h1v1h-1zM209 317h1v1h-1zM214 317h1v1h-1zM216 317h3v1h-3zM220 317h2v1h-2zM223 317h5v1h-5zM229 317h2v1h-2zM232 317h8v1h-8zM241 317h6v1h-6zM261 317h1v1h-1zM265 317h2v1h-2zM274 317h2v1h-2zM278 317h1v1h-1zM300 317h1v1h-1zM155 318h1v1h-1zM159 318h2v1h-2zM162 318h5v1h-5zM168 318h1v1h-1zM174 318h4v1h-4zM179 318h2v1h-2zM182 318h1v1h-1zM184 318h2v1h-2zM187 318h3v1h-3zM191 318h1v1h-1zM193 318h1v1h-1zM195 318h1v1h-1zM197 318h3v1h-3zM201 318h6v1h-6zM218 318h3v1h-3zM222 318h1v1h-1zM227 318h2v1h-2zM230 318h2v1h-2zM233 318h2v1h-2zM238 318h4v1h-4zM244 318h1v1h-1zM133 319h1v1h-1zM135 319h2v1h-2zM141 319h1v1h-1zM145 319h10v1h-10zM156 319h3v1h-3zM160 319h3v1h-3zM167 319h1v1h-1zM169 319h2v1h-2zM172 319h3v1h-3zM178 319h1v1h-1zM240 319h1v1h-1zM110 320h1v1h-1zM114 320h2v1h-2zM118 320h1v1h-1zM120 320h1v1h-1zM122 320h1v1h-1zM125 320h1v1h-1zM127 320h3v1h-3zM131 320h4v1h-4zM136 320h2v1h-2zM139 320h1v1h-1zM141 320h3v1h-3zM145 320h1v1h-1zM148 320h3v1h-3zM152 320h1v1h-1zM154 320h1v1h-1zM156 320h1v1h-1zM261 320h1v1h-1zM67 321h1v1h-1zM69 321h1v1h-1zM71 321h1v1h-1zM73 321h1v1h-1zM75 321h5v1h-5zM100 321h1v1h-1zM102 321h1v1h-1zM106 321h3v1h-3zM111 321h5v1h-5zM117 321h2v1h-2zM120 321h6v1h-6zM127 321h2v1h-2zM131 321h1v1h-1zM133 321h2v1h-2zM139 321h2v1h-2zM143 321h1v1h-1zM67 322h2v1h-2zM70 322h2v1h-2zM73 322h3v1h-3zM77 322h7v1h-7zM85 322h1v1h-1zM87 322h1v1h-1zM92 322h1v1h-1zM94 322h1v1h-1zM96 322h2v1h-2zM99 322h2v1h-2zM102 322h5v1h-5zM108 322h3v1h-3zM114 322h1v1h-1zM119 322h1v1h-1zM121 322h1v1h-1zM222 322h1v1h-1zM312 322h1v1h-1zM65 323h3v1h-3zM69 323h2v1h-2zM72 323h1v1h-1zM77 323h1v1h-1zM86 323h2v1h-2zM89 323h2v1h-2zM92 323h5v1h-5zM98 323h1v1h-1zM102 323h2v1h-2zM108 323h2v1h-2zM52 324h1v1h-1zM63 324h2v1h-2zM86 324h1v1h-1zM88 324h2v1h-2zM92 324h2v1h-2zM96 324h1v1h-1zM132 324h1v1h-1zM163 324h1v1h-1zM52 325h2v1h-2zM56 325h1v1h-1zM58 325h7v1h-7zM54 326h1v1h-1zM56 326h2v1h-2zM59 326h2v1h-2zM54 327h3v1h-3zM418 327h1v1h-1zM55 328h1v1h-1zM103 340h1v1h-1zM379 341h1v1h-1zM142 358h1v1h-1zM418 375h1v1h-1z"/>
</g>
<g>
<text transform="matrix(1,0,0.001,1.0000,0,20)" font-size="14.5"><tspan x="157.28" y="0.00" textLength="8.15" lengthAdjust="spacingAndGlyphs">G</tspan><tspan x="165.35" y="0.00" textLength="7.33" lengthAdjust="spacingAndGlyphs">O</tspan><tspan x="174.14" y="0.00" textLength="7.37" lengthAdjust="spacingAndGlyphs">E</tspan><tspan x="181.12" y="0.00" textLength="8.46" lengthAdjust="spacingAndGlyphs">S</tspan> <tspan x="196.00" y="0.00" textLength="6.77" lengthAdjust="spacingAndGlyphs">0</tspan><tspan x="204.85" y="0.00" textLength="2.22" lengthAdjust="spacingAndGlyphs">.</tspan><tspan x="208.24" y="0.00" textLength="4.50" lengthAdjust="spacingAndGlyphs">1</tspan><tspan x="215.80" y="-1.00" textLength="9.29" lengthAdjust="spacingAndGlyphs">&#8211;</tspan><tspan x="226.00" y="0.00" textLength="6.77" lengthAdjust="spacingAndGlyphs">0</tspan><tspan x="234.85" y="0.00" textLength="2.22" lengthAdjust="spacingAndGlyphs">.</tspan><tspan x="236.91" y="0.00" textLength="7.96" lengthAdjust="spacingAndGlyphs">8</tspan><tspan x="245.03" y="0.00" textLength="7.81" lengthAdjust="spacingAndGlyphs">n</tspan><tspan x="252.23" y="0.00" textLength="12.94" lengthAdjust="spacingAndGlyphs">m</tspan> <tspan x="270.75" y="0.00" textLength="5.09" lengthAdjust="spacingAndGlyphs">(</tspan><tspan x="276.80" y="0.00" textLength="4.84" lengthAdjust="spacingAndGlyphs">r</tspan><tspan x="282.00" y="0.00" textLength="6.92" lengthAdjust="spacingAndGlyphs">e</tspan><tspan x="288.90" y="0.00" textLength="7.27" lengthAdjust="spacingAndGlyphs">d</tspan><tspan x="297.20" y="0.00" textLength="4.60" lengthAdjust="spacingAndGlyphs">)</tspan><tspan x="301.95" y="0.00" textLength="3.83" lengthAdjust="spacingAndGlyphs">,</tspan> <tspan x="312.07" y="0.00" textLength="6.69" lengthAdjust="spacingAndGlyphs">L</tspan><tspan x="319.00" y="0.00" textLength="7.09" lengthAdjust="spacingAndGlyphs">Y</tspan><tspan x="326.86" y="0.00" textLength="6.76" lengthAdjust="spacingAndGlyphs">R</tspan><tspan x="334.00" y="0.00" textLength="6.77" lengthAdjust="spacingAndGlyphs">A</tspan> <tspan x="346.80" y="0.00" textLength="6.67" lengthAdjust="spacingAndGlyphs">A</tspan><tspan x="355.00" y="0.00" textLength="3.23" lengthAdjust="spacingAndGlyphs">l</tspan> <tspan x="363.75" y="0.00" textLength="5.09" lengthAdjust="spacingAndGlyphs">(</tspan><tspan x="370.03" y="0.00" textLength="7.04" lengthAdjust="spacingAndGlyphs">b</tspan><tspan x="376.60" y="0.00" textLength="3.88" lengthAdjust="spacingAndGlyphs">l</tspan><tspan x="379.53" y="0.00" textLength="8.62" lengthAdjust="spacingAndGlyphs">u</tspan><tspan x="388.90" y="0.00" textLength="6.46" lengthAdjust="spacingAndGlyphs">e</tspan><tspan x="395.80" y="0.00" textLength="4.12" lengthAdjust="spacingAndGlyphs">)</tspan> <tspan x="407.00" y="0.00" textLength="8.70" lengthAdjust="spacingAndGlyphs">&amp;</tspan> <tspan x="424.00" y="0.00" textLength="6.89" lengthAdjust="spacingAndGlyphs">Z</tspan><tspan x="430.75" y="0.00" textLength="6.05" lengthAdjust="spacingAndGlyphs">r</tspan> <tspan x="442.55" y="0.00" textLength="5.09" lengthAdjust="spacingAndGlyphs">(</tspan><tspan x="449.00" y="0.00" textLength="6.23" lengthAdjust="spacingAndGlyphs">g</tspan><tspan x="454.43" y="0.00" textLength="5.21" lengthAdjust="spacingAndGlyphs">r</tspan><tspan x="461.00" y="0.00" textLength="6.12" lengthAdjust="spacingAndGlyphs">e</tspan><tspan x="467.00" y="0.00" textLength="6.84" lengthAdjust="spacingAndGlyphs">y</tspan><tspan x="475.00" y="0.00" textLength="4.84" lengthAdjust="spacingAndGlyphs">)</tspan> <tspan x="485.96" y="0.00" textLength="6.81" lengthAdjust="spacingAndGlyphs">p</tspan><tspan x="494.25" y="0.00" textLength="3.63" lengthAdjust="spacingAndGlyphs">r</tspan><tspan x="499.20" y="0.00" textLength="6.26" lengthAdjust="spacingAndGlyphs">o</tspan><tspan x="506.50" y="0.00" textLength="5.18" lengthAdjust="spacingAndGlyphs">x</tspan><tspan x="512.70" y="0.00" textLength="6.32" lengthAdjust="spacingAndGlyphs">y</tspan></text>
<text class="s" transform="matrix(1,0,0.001,1.0000,0,470)" font-size="10"><tspan x="266.00" y="0.00" textLength="6.11" lengthAdjust="spacingAndGlyphs">T</tspan><tspan x="271.00" y="0.00" textLength="2.23" lengthAdjust="spacingAndGlyphs">i</tspan><tspan x="273.83" y="0.00" textLength="9.77" lengthAdjust="spacingAndGlyphs">m</tspan><tspan x="284.30" y="0.00" textLength="5.23" lengthAdjust="spacingAndGlyphs">e</tspan> <tspan x="294.35" y="2.00" rotate="12" stroke="none" font-size="16">/</tspan> <tspan x="305.57" y="0.00" textLength="7.37" lengthAdjust="spacingAndGlyphs">h</tspan> <tspan x="317.12" y="0.00" textLength="6.39" lengthAdjust="spacingAndGlyphs">U</tspan><tspan x="321.60" y="0.00" textLength="6.82" lengthAdjust="spacingAndGlyphs">T</tspan><tspan x="330.20" y="0.00" textLength="5.99" lengthAdjust="spacingAndGlyphs">C</tspan><tspan x="334.80" y="0.00" textLength="5.56" lengthAdjust="spacingAndGlyphs">,</tspan> <tspan x="344.60" y="0.00" textLength="5.90" lengthAdjust="spacingAndGlyphs">2</tspan><tspan x="352.20" y="0.00" textLength="3.34" lengthAdjust="spacingAndGlyphs">1</tspan> <tspan x="361.82" y="0.00" textLength="5.99" lengthAdjust="spacingAndGlyphs">F</tspan><tspan x="368.00" y="0.00" textLength="5.56" lengthAdjust="spacingAndGlyphs">e</tspan><tspan x="372.60" y="0.00" textLength="7.23" lengthAdjust="spacingAndGlyphs">b</tspan> <tspan x="384.90" y="0.00" textLength="5.23" lengthAdjust="spacingAndGlyphs">2</tspan><tspan x="391.10" y="0.00" textLength="6.23" lengthAdjust="spacingAndGlyphs">0</tspan><tspan x="398.00" y="0.00" textLength="5.45" lengthAdjust="spacingAndGlyphs">2</tspan><tspan x="404.40" y="0.00" textLength="5.23" lengthAdjust="spacingAndGlyphs">0</tspan></text>
<text class="s" transform="matrix(1,0,0.001,1.1429,0,495)" font-size="10"><tspan x="488.20" y="0.00" textLength="5.79" lengthAdjust="spacingAndGlyphs">R</tspan><tspan x="495.00" y="0.00" textLength="7.67" lengthAdjust="spacingAndGlyphs">O</tspan><tspan x="501.90" y="0.00" textLength="8.01" lengthAdjust="spacingAndGlyphs">B</tspan><tspan x="509.05" y="1.62" rotate="12" stroke="none" font-size="16">/</tspan><tspan x="515.46" y="0.00" textLength="8.27" lengthAdjust="spacingAndGlyphs">S</tspan><tspan x="522.10" y="0.00" textLength="4.17" lengthAdjust="spacingAndGlyphs">I</tspan><tspan x="525.77" y="0.00" textLength="7.48" lengthAdjust="spacingAndGlyphs">D</tspan><tspan x="534.00" y="0.00" textLength="6.30" lengthAdjust="spacingAndGlyphs">C</tspan><tspan x="538.60" y="0.00" textLength="6.12" lengthAdjust="spacingAndGlyphs">,</tspan> <tspan x="548.76" y="0.00" textLength="7.61" lengthAdjust="spacingAndGlyphs">B</tspan><tspan x="555.40" y="0.00" textLength="4.01" lengthAdjust="spacingAndGlyphs">r</tspan><tspan x="560.50" y="0.00" textLength="5.78" lengthAdjust="spacingAndGlyphs">u</tspan><tspan x="566.90" y="0.00" textLength="5.00" lengthAdjust="spacingAndGlyphs">s</tspan><tspan x="572.80" y="0.00" textLength="5.20" lengthAdjust="spacingAndGlyphs">s</tspan><tspan x="579.00" y="0.00" textLength="5.45" lengthAdjust="spacingAndGlyphs">e</tspan><tspan x="583.70" y="0.00" textLength="2.68" lengthAdjust="spacingAndGlyphs">l</tspan><tspan x="587.80" y="0.00" textLength="4.50" lengthAdjust="spacingAndGlyphs">s</tspan><tspan x="592.20" y="0.00" textLength="4.17" lengthAdjust="spacingAndGlyphs">,</tspan> <tspan x="600.56" y="0.00" textLength="8.94" lengthAdjust="spacingAndGlyphs">B</tspan><tspan x="609.20" y="0.00" textLength="5.90" lengthAdjust="spacingAndGlyphs">e</tspan><tspan x="614.20" y="0.00" textLength="3.35" lengthAdjust="spacingAndGlyphs">l</tspan><tspan x="618.50" y="0.00" textLength="5.45" lengthAdjust="spacingAndGlyphs">g</tspan><tspan x="623.30" y="0.00" textLength="3.57" lengthAdjust="spacingAndGlyphs">i</tspan><tspan x="628.00" y="0.00" textLength="6.12" lengthAdjust="spacingAndGlyphs">u</tspan><tspan x="633.46" y="0.00" textLength="8.70" lengthAdjust="spacingAndGlyphs">m</tspan></text>
<text class="s" transform="matrix(1,0,0.001,1.0000,0,458)" font-size="10"><tspan x="49.00" y="0.00" textLength="6.67" lengthAdjust="spacingAndGlyphs">0</tspan></text>
<text class="s" transform="matrix(1,0,0.001,1.0000,0,458)" font-size="10"><tspan x="167.75" y="0.00" textLength="6.95" lengthAdjust="spacingAndGlyphs">5</tspan></text>
<text class="s" transform="matrix(1,0,0.001,1.0000,0,458)" font-size="10"><tspan x="285.00" y="0.00" textLength="11.12" lengthAdjust="spacingAndGlyphs">10</tspan></text>
<text class="s" transform="matrix(1,0,0.001,1.0000,0,458)" font-size="10"><tspan x="403.90" y="0.00" textLength="12.24" lengthAdjust="spacingAndGlyphs">15</tspan></text>
<text class="s" transform="matrix(1,0,0.001,1.0000,0,458)" font-size="10"><tspan x="523.00" y="0.00" textLength="12.14" lengthAdjust="spacingAndGlyphs">20</tspan></text>
<text class="s" transform="matrix(1,0,0.001,1.0000,0,80)" font-size="11.6"><tspan x="631.25" y="0.00" textLength="7.25" lengthAdjust="spacingAndGlyphs">M</tspan></text>
<text class="s" transform="matrix(1,0,0.001,1.0000,0,185)" font-size="11.6"><tspan x="632.00" y="0.00" textLength="6.28" lengthAdjust="spacingAndGlyphs">C</tspan></text>
<text class="s" transform="matrix(1,0,0.001,1.0000,0,290)" font-size="11.6"><tspan x="631.00" y="0.00" textLength="7.73" lengthAdjust="spacingAndGlyphs">B</tspan></text>
<text class="s" transform="matrix(1,0,0.001,1.0000,0,395)" font-size="11.6"><tspan x="631.00" y="0.00" textLength="5.80" lengthAdjust="spacingAndGlyphs">A</tspan></text>
<text class="s" transform="matrix(1,0,0.001,0.9333,0,30)" font-size="8.7"><tspan x="33.00" y="0.00" textLength="9.67" lengthAdjust="spacingAndGlyphs">10</tspan><tspan x="43.00" y="-4.36" textLength="4.69" lengthAdjust="spacingAndGlyphs" font-size="6" stroke="#000" stroke-width="0.5">&#8722;</tspan><tspan x="47.00" y="-4.29" textLength="3.34" lengthAdjust="spacingAndGlyphs" font-size="6">4</tspan></text>
<text class="s" transform="matrix(1,0,0.001,0.9333,0,133)" font-size="8.7"><tspan x="33.00" y="0.00" textLength="9.67" lengthAdjust="spacingAndGlyphs">10</tspan><tspan x="43.00" y="-4.36" textLength="4.69" lengthAdjust="spacingAndGlyphs" font-size="6" stroke="#000" stroke-width="0.5">&#8722;</tspan><tspan x="47.00" y="-4.29" textLength="3.34" lengthAdjust="spacingAndGlyphs" font-size="6">5</tspan></text>
<text class="s" transform="matrix(1,0,0.001,0.9333,0,238)" font-size="8.7"><tspan x="33.00" y="0.00" textLength="9.67" lengthAdjust="spacingAndGlyphs">10</tspan><tspan x="43.00" y="-4.36" textLength="4.69" lengthAdjust="spacingAndGlyphs" font-size="6" stroke="#000" stroke-width="0.5">&#8722;</tspan><tspan x="47.00" y="-4.29" textLength="3.34" lengthAdjust="spacingAndGlyphs" font-size="6">6</tspan></text>
<text class="s" transform="matrix(1,0,0.001,0.9333,0,343)" font-size="8.7"><tspan x="33.00" y="0.00" textLength="9.67" lengthAdjust="spacingAndGlyphs">10</tspan><tspan x="43.00" y="-4.36" textLength="4.69" lengthAdjust="spacingAndGlyphs" font-size="6" stroke="#000" stroke-width="0.5">&#8722;</tspan><tspan x="45.50" y="-4.29" textLength="5.02" lengthAdjust="spacingAndGlyphs" font-size="6">7</tspan></text>
<text class="s" transform="matrix(1,0,0.001,0.9333,0,445)" font-size="8.7"><tspan x="33.00" y="0.00" textLength="9.67" lengthAdjust="spacingAndGlyphs">10</tspan><tspan x="43.00" y="-4.36" textLength="4.69" lengthAdjust="spacingAndGlyphs" font-size="6" stroke="#000" stroke-width="0.5">&#8722;</tspan><tspan x="47.00" y="-4.29" textLength="3.34" lengthAdjust="spacingAndGlyphs" font-size="6">8</tspan></text>
<text class="b" transform="matrix(0.001,-1,0.9167,0,26,0)" font-size="8.7"><tspan x="-288.80" y="0.00" textLength="20.49" lengthAdjust="spacingAndGlyphs">GOES</tspan> <tspan x="-265.64" y="0.00" textLength="40.31" lengthAdjust="spacingAndGlyphs">Irradiance</tspan> <tspan x="-221.30" y="2.62" rotate="12" stroke="none" font-size="12">/</tspan> <tspan x="-211.60" y="0.00" textLength="10.09" lengthAdjust="spacingAndGlyphs">(W</tspan> <tspan x="-198.00" y="0.00" textLength="7.46" lengthAdjust="spacingAndGlyphs">m</tspan><tspan x="-191.00" y="-4.45" textLength="4.69" lengthAdjust="spacingAndGlyphs" font-size="6" stroke="#000" stroke-width="0.5">&#8722;</tspan><tspan x="-187.40" y="-4.36" textLength="4.24" lengthAdjust="spacingAndGlyphs" font-size="6">2</tspan><tspan x="-182.80" y="0.00" textLength="2.62" lengthAdjust="spacingAndGlyphs">)</tspan></text>
</g>
</svg>
</body></html>
